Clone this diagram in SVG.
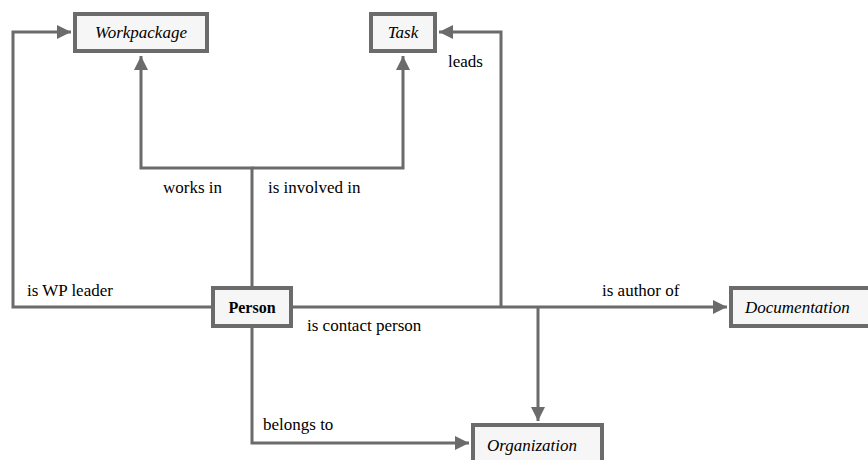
<svg xmlns="http://www.w3.org/2000/svg" width="868" height="460" viewBox="0 0 868 460">
  <style>
    .box { fill: #f6f6f6; stroke: #6b6b6b; stroke-width: 4; }
    .node-label { font-family: "Liberation Serif", "DejaVu Serif", serif; font-size: 17px; font-style: italic; fill: #000; }
    .bold-label { font-family: "Liberation Serif", "DejaVu Serif", serif; font-size: 16px; font-weight: bold; fill: #000; }
    .edge { fill: none; stroke: #6b6b6b; stroke-width: 3; }
    .edge-label { font-family: "Liberation Serif", "DejaVu Serif", serif; font-size: 17px; fill: #000; }
  </style>
  <defs>
    <marker id="arrow" markerUnits="userSpaceOnUse" markerWidth="16" markerHeight="16" viewBox="0 0 16 16" refX="15" refY="8" orient="auto">
      <path d="M1,1 L15,8 L1,15 Z" fill="#6b6b6b"/>
    </marker>
  </defs>

  <rect width="868" height="460" fill="#ffffff"/>

  <g id="connectors">
    <!-- is WP leader -->
    <path class="edge" d="M211,307 H13 V32 H71" marker-end="url(#arrow)"/>
    <!-- works in / is involved in -->
    <path class="edge" d="M252,286 V168 H141 V56" marker-end="url(#arrow)"/>
    <path class="edge" d="M252,168 H403 V56" marker-end="url(#arrow)"/>
    <!-- leads / is author of -->
    <path class="edge" d="M293,307 H727" marker-end="url(#arrow)"/>
    <path class="edge" d="M501,307 V32 H439" marker-end="url(#arrow)"/>
    <!-- is contact person -->
    <path class="edge" d="M538,307 V421" marker-end="url(#arrow)"/>
    <!-- belongs to -->
    <path class="edge" d="M252,328 V443 H469" marker-end="url(#arrow)"/>

    <text class="edge-label" x="163" y="193">works in</text>
    <text class="edge-label" x="268" y="193">is involved in</text>
    <text class="edge-label" x="448" y="67">leads</text>
    <text class="edge-label" x="27" y="296">is WP leader</text>
    <text class="edge-label" x="307" y="331">is contact person</text>
    <text class="edge-label" x="602" y="296">is author of</text>
    <text class="edge-label" x="263" y="430">belongs to</text>
  </g>

  <g id="workpackage">
    <rect class="box" x="75" y="14" width="132" height="37"/>
    <text class="node-label" x="141" y="38" text-anchor="middle">Workpackage</text>
  </g>

  <g id="task">
    <rect class="box" x="371" y="14" width="64" height="37"/>
    <text class="node-label" x="403" y="38" text-anchor="middle">Task</text>
  </g>

  <g id="person">
    <rect class="box" x="213" y="288" width="78" height="38"/>
    <text class="bold-label" x="252" y="313" text-anchor="middle">Person</text>
  </g>

  <g id="documentation">
    <rect class="box" x="731" y="288" width="140" height="38"/>
    <text class="node-label" x="745" y="313">Documentation</text>
  </g>

  <g id="organization">
    <rect class="box" x="473" y="425" width="129" height="40"/>
    <text class="node-label" x="487" y="451">Organization</text>
  </g>
</svg>
